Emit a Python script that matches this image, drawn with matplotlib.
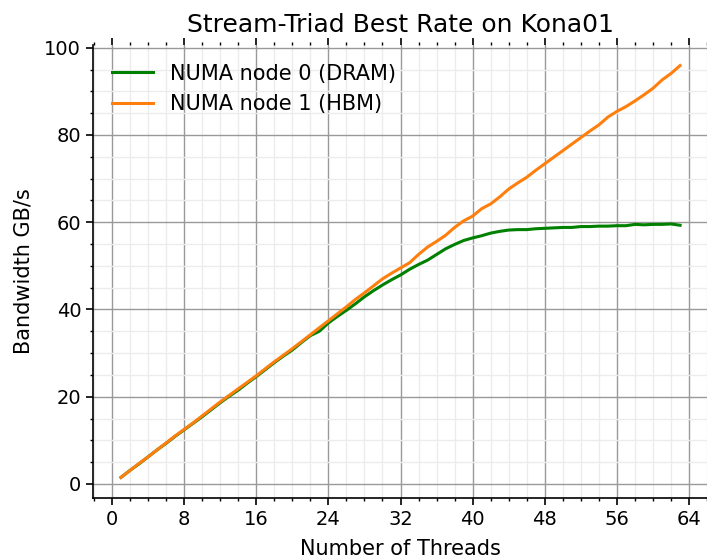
import matplotlib
matplotlib.use("Agg")
import matplotlib.pyplot as plt
from matplotlib.ticker import MultipleLocator

threads = list(range(1, 64))

dram_gbs = [
    1.5, 3.1, 4.6, 6.2, 7.8, 9.3, 10.9, 12.4, 13.9, 15.4,
    17.0, 18.6, 20.1, 21.5, 23.1, 24.6, 26.2, 27.8, 29.3, 30.7,
    32.4, 34.0, 35.0, 36.9, 38.4, 39.8, 41.3, 42.9, 44.3, 45.6,
    46.8, 47.9, 49.2, 50.3, 51.3, 52.6, 53.9, 54.9, 55.8, 56.4,
    56.9, 57.5, 57.9, 58.2, 58.3, 58.3, 58.5, 58.6, 58.7, 58.8,
    58.8, 59.0, 59.0, 59.1, 59.1, 59.2, 59.2, 59.5, 59.4, 59.5,
    59.5, 59.6, 59.3,
]

hbm_gbs = [
    1.5, 3.1, 4.7, 6.2, 7.8, 9.4, 11.0, 12.5, 14.0, 15.6,
    17.2, 18.8, 20.3, 21.8, 23.3, 24.8, 26.4, 28.0, 29.5, 31.0,
    32.6, 34.2, 35.8, 37.4, 39.0, 40.6, 42.3, 43.8, 45.4, 47.0,
    48.3, 49.5, 50.7, 52.6, 54.3, 55.6, 57.0, 58.8, 60.3, 61.4,
    63.1, 64.2, 65.8, 67.6, 69.0, 70.3, 71.9, 73.4, 74.9, 76.4,
    77.9, 79.4, 80.9, 82.3, 84.1, 85.4, 86.5, 87.8, 89.2, 90.7,
    92.6, 94.1, 95.9,
]

series_labels = ["NUMA node 0 (DRAM)", "NUMA node 1 (HBM)"]

fig = plt.figure(figsize=(7.07, 5.57), dpi=100)
ax = fig.add_axes([93 / 707, 59 / 557, 615 / 707, 453 / 557])

ax.plot(threads, dram_gbs, color="green", lw=2.2, label=series_labels[0])
ax.plot(threads, hbm_gbs, color="#ff7f0e", lw=2.2, label=series_labels[1])

ax.xaxis.set_major_locator(MultipleLocator(8))
ax.xaxis.set_minor_locator(MultipleLocator(2))
ax.yaxis.set_major_locator(MultipleLocator(20))
ax.yaxis.set_minor_locator(MultipleLocator(5))

ax.grid(which="major", color="#999999", lw=1.0)
ax.grid(which="minor", color="#ececec", lw=1.0)
ax.set_axisbelow(True)

for side in ("top", "right"):
    ax.spines[side].set_visible(False)
for side in ("left", "bottom"):
    ax.spines[side].set_color("black")
    ax.spines[side].set_linewidth(1.2)

ax.tick_params(which="both", top=True, right=False, direction="out", color="black")
ax.tick_params(which="major", length=5, width=1.2, labelsize=14)
ax.tick_params(which="minor", length=2.5, width=1.0)

ax.set_title("Stream-Triad Best Rate on Kona01", fontsize=18, pad=9)
ax.set_xlabel("Number of Threads", fontsize=15, labelpad=7)
ax.set_ylabel("Bandwidth GB/s", fontsize=15, labelpad=8)

ax.legend(loc="upper left", frameon=False, fontsize=15,
          handlelength=2.0, borderaxespad=0.5)

fig.savefig("out.png", dpi=100)
